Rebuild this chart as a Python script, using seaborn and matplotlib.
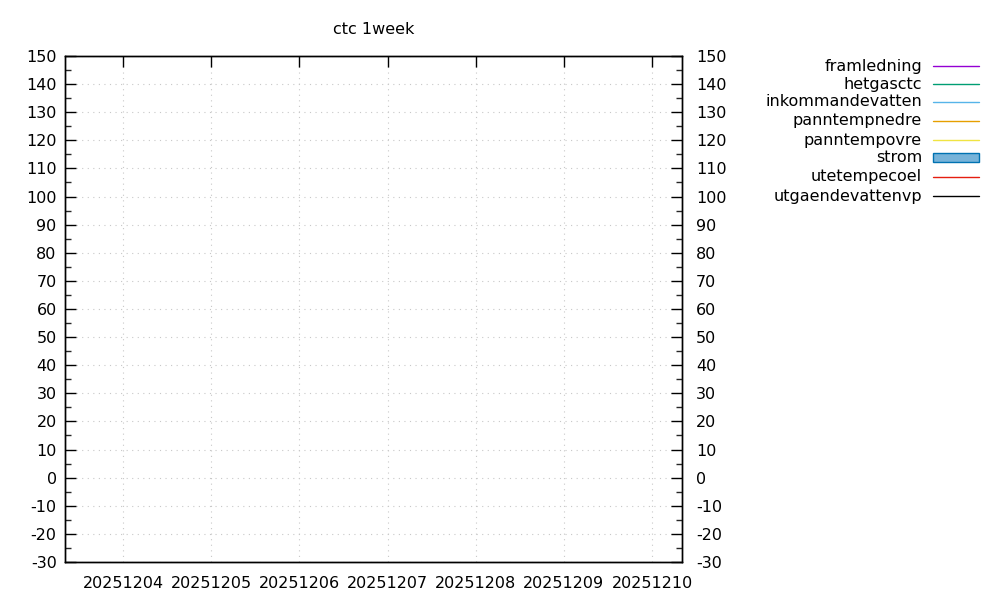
#!/usr/bin/env python3
"""ctc 1week - temperature / power overview (gnuplot style, no data in window)."""

from datetime import datetime, timedelta

import matplotlib
matplotlib.use('Agg')
import matplotlib.pyplot as plt
import matplotlib.dates as mdates
from matplotlib.lines import Line2D
from matplotlib.patches import Rectangle
from matplotlib.ticker import MultipleLocator
import pandas as pd
import seaborn as sns

# Series names and colours (gnuplot default palette)
series_names = ['framledning', 'hetgasctc', 'inkommandevatten', 'panntempnedre',
                'panntempovre', 'strom', 'utetempecoel', 'utgaendevattenvp']
series_colors = ['#9400d3', '#009e73', '#56b4e9', '#e69f00',
                 '#f0e442', '#0072b2', '#e51e10', '#000000']

# No samples fall inside the plotted week
series_times = {name: [] for name in series_names}
series_values = {name: [] for name in series_names}

# Axis ranges
window_start = datetime(2025, 12, 3, 8, 10)
window_days = 7
y_min, y_max = -30, 150
tick_days = ['20251204', '20251205', '20251206', '20251207',
             '20251208', '20251209', '20251210']

FS = 11.5

sns.set_style('white')
plt.rcParams['font.family'] = ['DejaVu Sans']
plt.rcParams['axes.unicode_minus'] = False
plt.rcParams['text.color'] = 'black'

fig = plt.figure(figsize=(10, 6), dpi=100)
ax = fig.add_axes([0.065, 1 - 562 / 600, 0.682 - 0.065, (562 - 56) / 600])

for name, color in zip(series_names, series_colors):
    df = pd.DataFrame({'time': pd.to_datetime(series_times[name]),
                       'value': pd.Series(series_values[name], dtype=float)})
    if name == 'strom':
        ax.fill_between(df['time'], df['value'], color='#77b3d9', edgecolor=color)
    else:
        sns.lineplot(data=df, x='time', y='value', color=color, lw=1, ax=ax)

ax.set_xlim(window_start, window_start + timedelta(days=window_days))
ax.set_ylim(y_min, y_max)
ax.set_xlabel('')
ax.set_ylabel('')

ax.xaxis.set_major_locator(mdates.DayLocator())
ax.xaxis.set_major_formatter(mdates.DateFormatter('%Y%m%d'))

# right hand axis, same scale
ax2 = ax.twinx()
ax2.set_ylim(y_min, y_max)

for a in (ax, ax2):
    a.yaxis.set_major_locator(MultipleLocator(10))
    a.yaxis.set_minor_locator(MultipleLocator(5))
    a.tick_params(axis='both', which='major', direction='in', length=8, width=1,
                  labelsize=FS, color='black', labelcolor='black')
    a.tick_params(axis='y', which='minor', direction='in', length=4, width=1)
    for spine in a.spines.values():
        spine.set_visible(True)
        spine.set_color('black')
        spine.set_linewidth(1)

ax.tick_params(axis='x', top=True, pad=10)
ax.tick_params(axis='y', which='both', left=True, right=False, pad=6)
ax2.tick_params(axis='y', which='both', right=True, pad=10)

ax.grid(True, which='major', color='#c8c8c8', linestyle=(0, (1, 4)), linewidth=0.8)

fig.text(0.3735, 1 - 29 / 600, 'ctc 1week', ha='center', va='center', fontsize=FS)

# gnuplot style key: right aligned text, sample on the right
row_y = [66, 84, 102, 121, 140, 158, 177, 196]
for name, color, ypx in zip(series_names, series_colors, row_y):
    fy = 1 - ypx / 600
    fig.text(0.922, fy, name, ha='right', va='center', fontsize=FS)
    if name == 'strom':
        fig.add_artist(Rectangle((0.933, fy - 4.5 / 600), 0.046, 9 / 600,
                                 facecolor='#77b3d9', edgecolor=color, lw=1,
                                 transform=fig.transFigure))
    else:
        fig.add_artist(Line2D([0.933, 0.979], [fy, fy], color=color, lw=1,
                              transform=fig.transFigure))

fig.savefig('out.png', dpi=100)
